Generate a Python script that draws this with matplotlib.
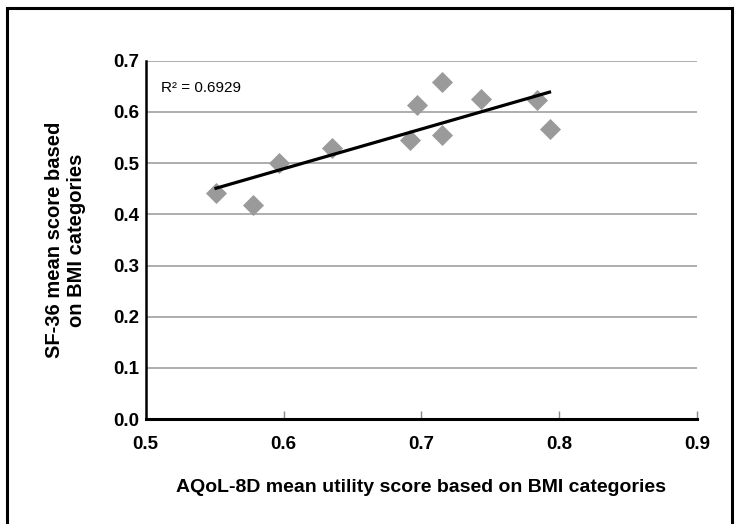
import numpy as np
import matplotlib.pyplot as plt
from matplotlib.patches import Rectangle

# mean scores per BMI category
aqol = [0.551, 0.578, 0.597, 0.635, 0.692, 0.697, 0.715, 0.715, 0.743, 0.784, 0.793]
sf36 = [0.441, 0.419, 0.501, 0.530, 0.546, 0.613, 0.658, 0.556, 0.625, 0.623, 0.566]
r2_label = 'R² = 0.6929'
x_ticks = [0.5, 0.6, 0.7, 0.8, 0.9]
y_ticks = [0.0, 0.1, 0.2, 0.3, 0.4, 0.5, 0.6, 0.7]

plt.rcParams['font.family'] = ['Liberation Sans', 'DejaVu Sans']

fig = plt.figure(figsize=(7.36, 5.24), dpi=100)
ax = fig.add_axes([0.198, 0.200, 0.749, 0.684])

# frame round the whole figure
fig.patches.append(Rectangle((0.009, -0.01), 0.985, 0.995, transform=fig.transFigure,
                             fill=False, edgecolor='black', linewidth=2.2))

ax.scatter(aqol, sf36, marker='D', s=115, color='#9a9a9a', zorder=3, linewidths=0)

# linear trend line
slope, intercept = np.polyfit(aqol, sf36, 1)
xs = np.array([min(aqol), max(aqol)])
ax.plot(xs, slope * xs + intercept, color='black', linewidth=2.3, zorder=4)

ax.set_xlim(0.5, 0.9)
ax.set_ylim(0.0, 0.7)
ax.set_xticks(x_ticks)
ax.set_yticks(y_ticks)
ax.set_xticklabels([f'{v:.1f}' for v in x_ticks], fontweight='bold', fontsize=13.5)
ax.set_yticklabels([f'{v:.1f}' for v in y_ticks], fontweight='bold', fontsize=13.5)
ax.tick_params(axis='x', direction='in', length=6, width=1, color='#888888', pad=12)
ax.tick_params(axis='y', length=0, pad=5)

ax.yaxis.grid(True, color='#a0a0a0', linewidth=1.2)
ax.set_axisbelow(True)
for side in ['top', 'right']:
    ax.spines[side].set_visible(False)
ax.spines['left'].set_linewidth(1.8)
ax.spines['bottom'].set_linewidth(2.2)

ax.text(0.027, 0.925, r2_label, transform=ax.transAxes, fontsize=11, va='center')

ax.set_xlabel('AQoL-8D mean utility score based on BMI categories',
              fontweight='bold', fontsize=14, labelpad=19)
ax.set_ylabel('SF-36 mean score based\non BMI categories',
              fontweight='bold', fontsize=14.5, labelpad=19, linespacing=1.2)

fig.savefig('out.png', dpi=100)
